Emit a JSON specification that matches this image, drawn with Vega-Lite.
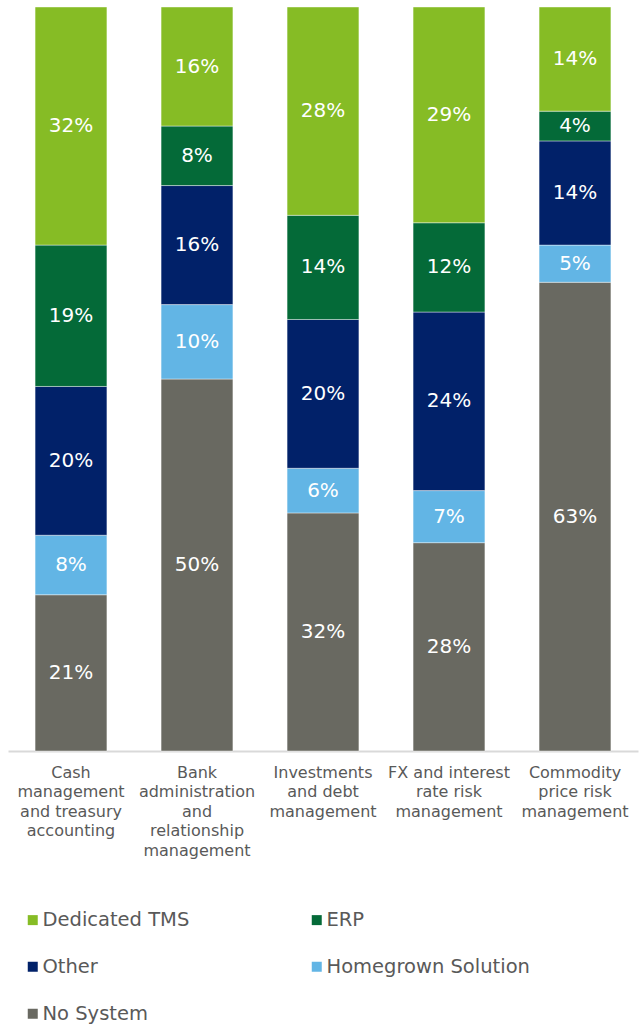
{
  "$schema": "https://vega.github.io/schema/vega-lite/v6.json",
  "width": 630,
  "height": 744,
  "padding": {"left": 8, "top": 6, "right": 3, "bottom": 0},
  "background": "white",
  "config": {
    "view": {"stroke": null},
    "font": "DejaVu Sans"
  },
  "data": {
    "values": [
      {"cat": "Cash|management|and treasury|accounting", "series": "No System", "value": 21},
      {"cat": "Cash|management|and treasury|accounting", "series": "Homegrown Solution", "value": 8},
      {"cat": "Cash|management|and treasury|accounting", "series": "Other", "value": 20},
      {"cat": "Cash|management|and treasury|accounting", "series": "ERP", "value": 19},
      {"cat": "Cash|management|and treasury|accounting", "series": "Dedicated TMS", "value": 32},
      {"cat": "Bank|administration|and|relationship|management", "series": "No System", "value": 50},
      {"cat": "Bank|administration|and|relationship|management", "series": "Homegrown Solution", "value": 10},
      {"cat": "Bank|administration|and|relationship|management", "series": "Other", "value": 16},
      {"cat": "Bank|administration|and|relationship|management", "series": "ERP", "value": 8},
      {"cat": "Bank|administration|and|relationship|management", "series": "Dedicated TMS", "value": 16},
      {"cat": "Investments|and debt|management", "series": "No System", "value": 32},
      {"cat": "Investments|and debt|management", "series": "Homegrown Solution", "value": 6},
      {"cat": "Investments|and debt|management", "series": "Other", "value": 20},
      {"cat": "Investments|and debt|management", "series": "ERP", "value": 14},
      {"cat": "Investments|and debt|management", "series": "Dedicated TMS", "value": 28},
      {"cat": "FX and interest|rate risk|management", "series": "No System", "value": 28},
      {"cat": "FX and interest|rate risk|management", "series": "Homegrown Solution", "value": 7},
      {"cat": "FX and interest|rate risk|management", "series": "Other", "value": 24},
      {"cat": "FX and interest|rate risk|management", "series": "ERP", "value": 12},
      {"cat": "FX and interest|rate risk|management", "series": "Dedicated TMS", "value": 29},
      {"cat": "Commodity|price risk|management", "series": "No System", "value": 63},
      {"cat": "Commodity|price risk|management", "series": "Homegrown Solution", "value": 5},
      {"cat": "Commodity|price risk|management", "series": "Other", "value": 14},
      {"cat": "Commodity|price risk|management", "series": "ERP", "value": 4},
      {"cat": "Commodity|price risk|management", "series": "Dedicated TMS", "value": 14}
    ]
  },
  "transform": [
    {"calculate": "indexof(['No System','Homegrown Solution','Other','ERP','Dedicated TMS'], datum.series)", "as": "ord"},
    {"stack": "value", "groupby": ["cat"], "sort": [{"field": "ord", "order": "ascending"}], "as": ["v0", "v1"]},
    {"calculate": "(datum.v0 + datum.v1) / 2", "as": "vmid"},
    {"calculate": "datum.value + '%'", "as": "label"}
  ],
  "encoding": {
    "x": {
      "field": "cat",
      "type": "nominal",
      "sort": null,
      "scale": {"paddingInner": 0.43, "paddingOuter": 0.215},
      "axis": {
        "title": null,
        "labelAngle": 0,
        "labelExpr": "split(datum.label, '|')",
        "labelFont": "DejaVu Sans",
        "labelFontSize": 16,
        "labelLineHeight": 19.5,
        "labelColor": "#595959",
        "labelPadding": 13,
        "labelLimit": 300,
        "ticks": false,
        "domainColor": "#d9d9d9",
        "domainWidth": 2
      }
    }
  },
  "layer": [
    {
      "mark": {"type": "bar", "stroke": "#ffffff", "strokeWidth": 0.6, "strokeOpacity": 0.7},
      "encoding": {
        "y": {"field": "v0", "type": "quantitative", "scale": {"domain": [0, 100]}, "axis": null},
        "y2": {"field": "v1"},
        "color": {
          "field": "series",
          "type": "nominal",
          "scale": {
            "domain": ["Dedicated TMS", "ERP", "Other", "Homegrown Solution", "No System"],
            "range": ["#86BC25", "#046A38", "#012169", "#62B5E5", "#696961"]
          },
          "legend": {
            "title": null,
            "orient": "none",
            "legendX": 15,
            "legendY": 903,
            "direction": "horizontal",
            "columns": 2,
            "columnPadding": 117,
            "rowPadding": 26,
            "symbolType": "square",
            "symbolSize": 100,
            "symbolStrokeWidth": 0,
            "symbolOffset": 0,
            "labelFont": "DejaVu Sans",
            "labelFontSize": 19.5,
            "labelColor": "#595959",
            "labelOffset": 0,
            "labelLimit": 400,
            "padding": 0
          }
        }
      }
    },
    {
      "mark": {"type": "text", "color": "white", "fontSize": 20, "font": "DejaVu Sans", "baseline": "middle"},
      "encoding": {
        "y": {"field": "vmid", "type": "quantitative"},
        "text": {"field": "label", "type": "nominal"}
      }
    }
  ]
}
